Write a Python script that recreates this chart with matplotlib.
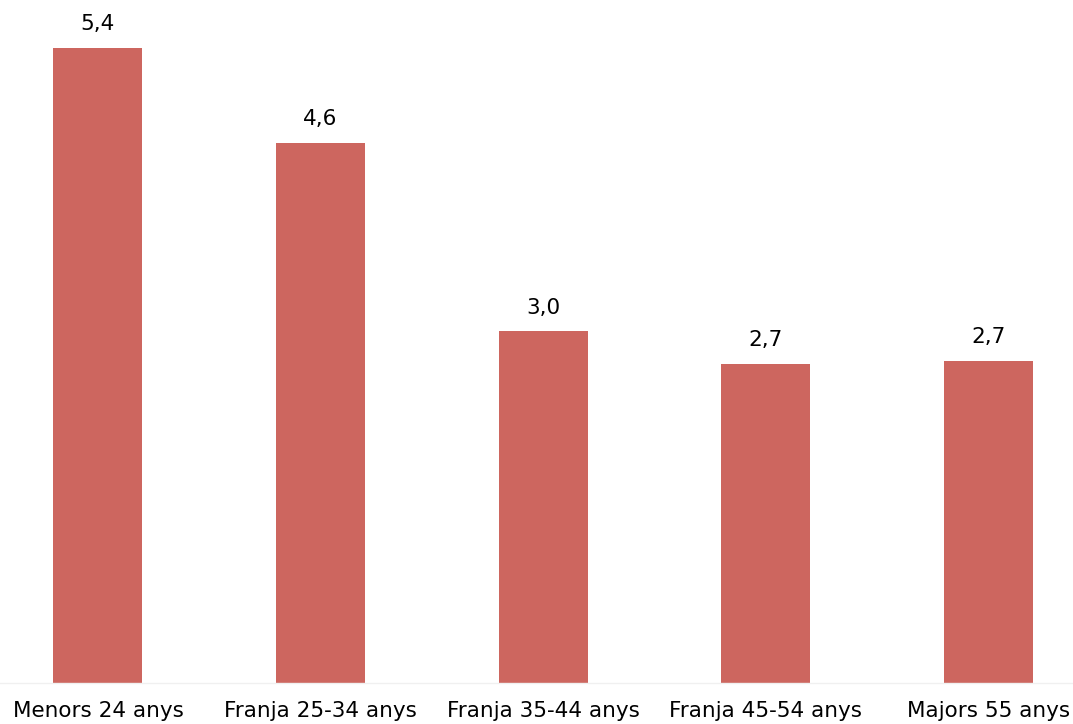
import matplotlib
matplotlib.use("Agg")
import matplotlib.pyplot as plt

categories = ["Menors 24 anys", "Franja 25-34 anys", "Franja 35-44 anys",
              "Franja 45-54 anys", "Majors 55 anys"]
values = [5.40, 4.59, 2.99, 2.71, 2.74]
labels = ["5,4", "4,6", "3,0", "2,7", "2,7"]

plt.rcParams['font.family'] = ['DejaVu Sans']

fig = plt.figure(figsize=(10.73, 7.24), dpi=100)
# baseline at y=683 px from top -> 41 px from bottom
ax = fig.add_axes([0, 41/724, 1, (724-41)/724])
x = list(range(len(categories)))
bars = ax.bar(x, values, width=0.4, color="#CD665F")
ax.set_xlim(-0.44, 4.38)
ax.set_ylim(0, 5.40 * 683 / 635)

for xi, v, lab in zip(x, values, labels):
    ax.annotate(lab, (xi, v), xytext=(0, 10), textcoords="offset points",
                ha="center", va="bottom", fontsize=15.5)

for s in ["top", "right", "left"]:
    ax.spines[s].set_visible(False)
ax.spines["bottom"].set_color("#F0F0F0")
ax.spines["bottom"].set_linewidth(1)
ax.set_yticks([])
ax.set_xticks(x)
ax.set_xticklabels(categories, fontsize=15.5)
ax.tick_params(axis="x", length=0, pad=13)

fig.savefig("out.png", dpi=100)
